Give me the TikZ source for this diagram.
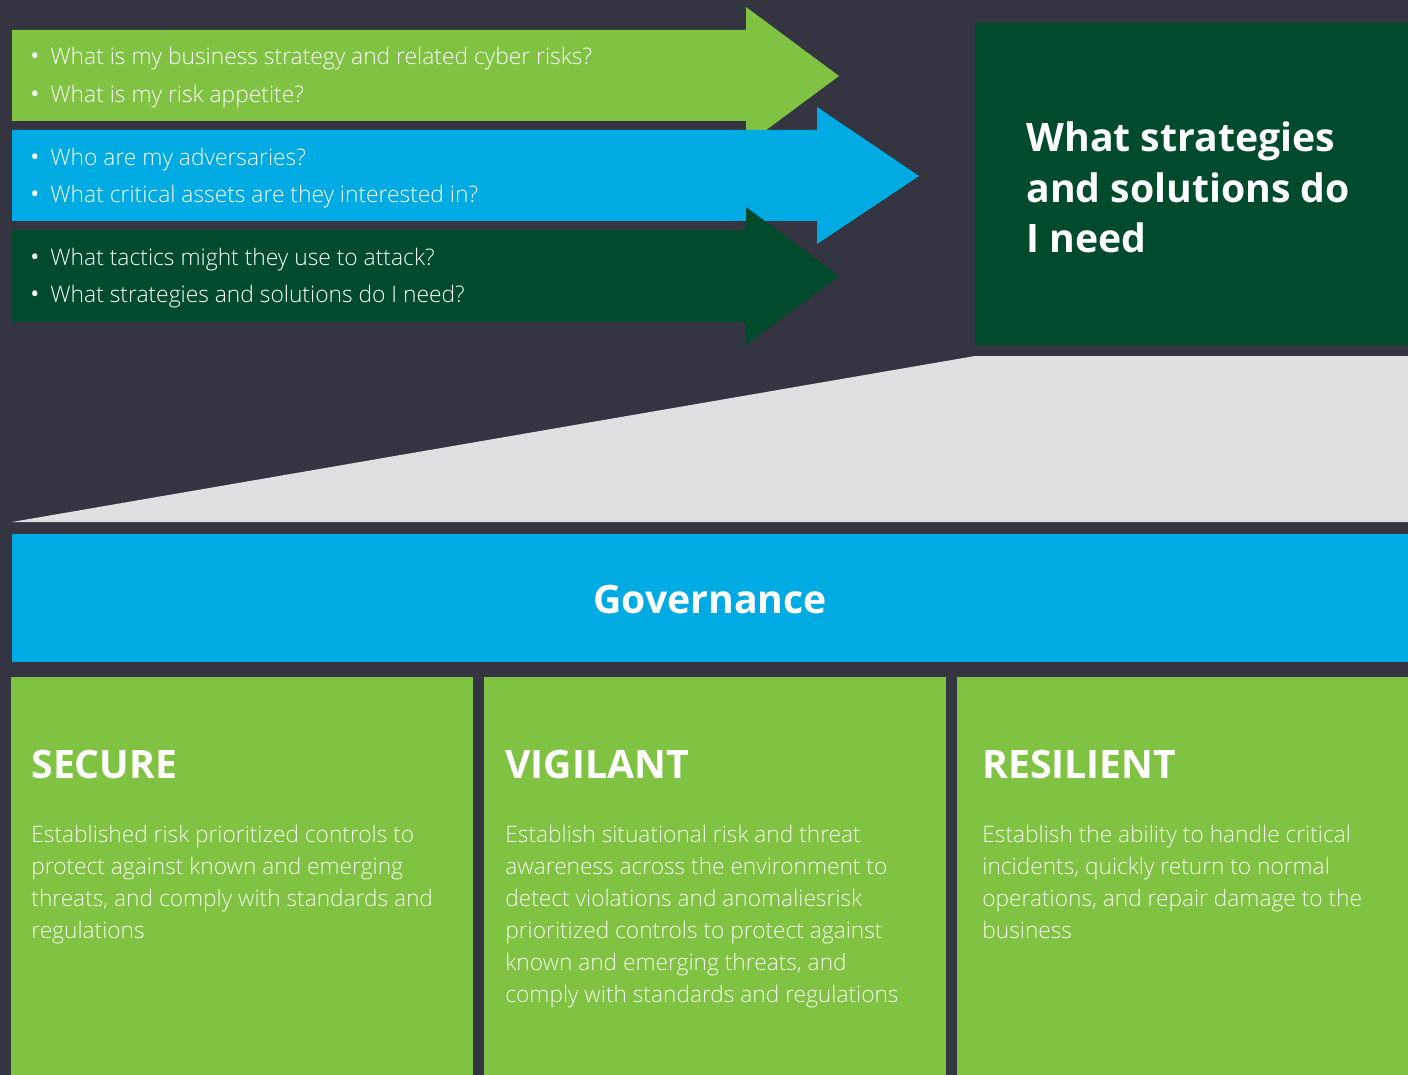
\documentclass[tikz,border=0pt]{standalone}
\usepackage{fontspec}
\setmainfont{Open Sans}
\newfontfamily\lightfont{Open Sans Light}
\usetikzlibrary{positioning}

\definecolor{slate}{RGB}{52,53,65}
\definecolor{leafgreen}{RGB}{128,195,66}
\definecolor{skyblue}{RGB}{0,171,228}
\definecolor{forestgreen}{RGB}{0,75,44}
\definecolor{mistgray}{RGB}{223,224,226}

\begin{document}
\begin{tikzpicture}[x=0.5pt,y=-0.5pt,
  question/.style={anchor=base west,inner sep=0pt,text=white,font=\lightfont\fontsize{11.4}{14}\selectfont},
  dot/.style={anchor=base,inner sep=0pt,text=white,font=\fontsize{12}{14}\selectfont},
  heading/.style={anchor=base west,inner sep=0pt,text=white,font=\bfseries\fontsize{19.6}{25.3}\selectfont},
  blurb/.style={anchor=base west,inner sep=0pt,align=left,text=white!92!leafgreen,font=\lightfont\fontsize{11.35}{16}\selectfont}
]
% backdrop
\fill[slate] (0,0) rectangle (1408,1075);
\useasboundingbox (0,0) rectangle (1408,1075);

% three question arrows, drawn back to front
\fill[leafgreen] (12,30) -- (746,30) -- (746,7) -- (839,76) -- (746,145) -- (746,121) -- (12,121) -- cycle;
\fill[skyblue] (12,130) -- (817,130) -- (817,107) -- (919,176) -- (817,244) -- (817,221) -- (12,221) -- cycle;
\fill[forestgreen] (12,230) -- (746,230) -- (746,207) -- (839,276) -- (746,345) -- (746,322) -- (12,322) -- cycle;

\node[dot] (d1) at (35,65) {\textbullet};
\node[question] (q1) at (50,65) {What is my business strategy and related cyber risks?};
\node[dot] (d2) at (35,103) {\textbullet};
\node[question] (q2) at (50,103) {What is my risk appetite?};
\node[dot] (d3) at (35,166) {\textbullet};
\node[question] (q3) at (50,166) {Who are my adversaries?};
\node[dot] (d4) at (35,203) {\textbullet};
\node[question] (q4) at (50,203) {What critical assets are they interested in?};
\node[dot] (d5) at (35,266) {\textbullet};
\node[question] (q5) at (50,266) {What tactics might they use to attack?};
\node[dot] (d6) at (35,303) {\textbullet};
\node[question] (q6) at (50,303) {What strategies and solutions do I need?};

% answer box on the right (base of a multi-line node = its last line)
\fill[forestgreen] (975,23) rectangle (1408,345);
\node[heading,align=left] (need) at (1026,253) {What strategies\\and solutions do\\I need};

% funnel down to the framework
\fill[mistgray] (12,522) -- (975,356) -- (1408,356) -- (1408,522) -- cycle;

\fill[skyblue] (12,534) rectangle (1408,662);
\node[heading,anchor=base] (gov) at (710,613) {Governance};

% pillars
\fill[leafgreen] (11,677) rectangle (473,1075);
\fill[leafgreen] (484,677) rectangle (946,1075);
\fill[leafgreen] (957,677) rectangle (1408,1075);

\node[heading] (secure) at (31,778) {SECURE};
\node[blurb] (securetxt) at (31,938) {Established risk prioritized controls to\\protect against known and emerging\\threats, and comply with standards and\\regulations};

\node[heading] (vigilant) at (505,778) {VIGILANT};
\node[blurb] (vigilanttxt) at (505,1002) {Establish situational risk and threat\\awareness across the environment to\\detect violations and anomaliesrisk\\prioritized controls to protect against\\known and emerging threats, and\\comply with standards and regulations};

\node[heading] (resilient) at (982,778) {RESILIENT};
\node[blurb] (resilienttxt) at (982,938) {Establish the ability to handle critical\\incidents, quickly return to normal\\operations, and repair damage to the\\business};
\end{tikzpicture}
\end{document}
